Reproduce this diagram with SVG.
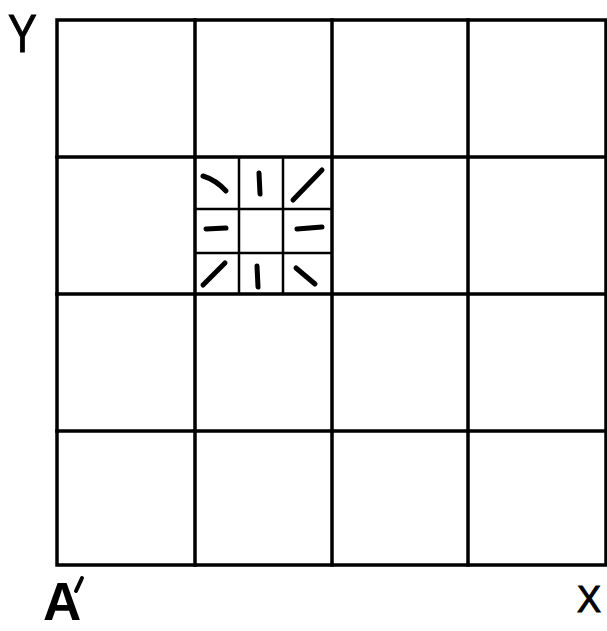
<svg xmlns="http://www.w3.org/2000/svg" width="607" height="631" viewBox="0 0 607 631">
<style>
.g{stroke:#000;stroke-width:3.5;fill:none;stroke-linecap:square}
.s{stroke:#000;stroke-width:2.5;fill:none}
.m{stroke:#000;stroke-width:5;stroke-linecap:round;fill:none}
.t{font-family:"Liberation Sans",Arial,sans-serif;fill:#000}
</style>
<rect width="607" height="631" fill="#fff"/>
<g id="grid">
<rect class="g" x="57" y="20" width="549" height="545" stroke-width="4"/>
<path class="g" d="M195 20V565M332 20V565M468 20V565M57 157H606M57 294H606M57 431H606"/>
</g>
<g id="subgrid">
<path class="s" d="M239 157V294M283 157V294M195 209H332M195 253H332"/>
</g>
<g id="marks">
<path class="m" d="M203 176Q216 180 226 191"/>
<path class="m" d="M259 173L260 194"/>
<path class="m" d="M293 200L322 170"/>
<path class="m" d="M206 229L226 228"/>
<path class="m" d="M297 229L322 227"/>
<path class="m" d="M203 285L225 263"/>
<path class="m" d="M257 266L258 287"/>
<path class="m" d="M296 268L315 284"/>
</g>
<g id="labels">
<text class="t" x="8" y="52" font-size="54" stroke="#000" stroke-width="1" transform="translate(8 0) scale(0.8 1) translate(-8 0)">Y</text>
<text class="t" x="43" y="620" font-size="53" font-weight="bold">A</text>
<path d="M82 578L76 591" stroke="#000" stroke-width="4" stroke-linecap="round"/>
<text class="t" x="577" y="612" font-size="36" stroke="#000" stroke-width="1">X</text>
</g>
</svg>
